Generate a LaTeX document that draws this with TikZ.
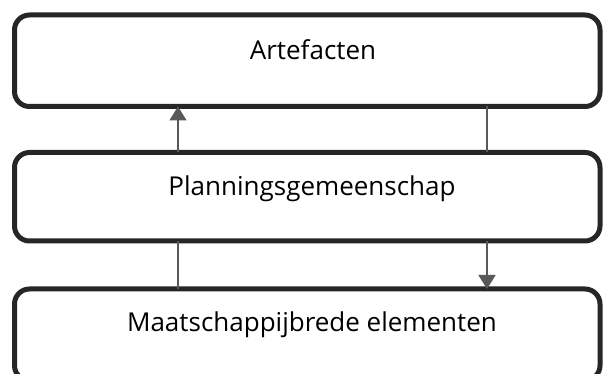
\documentclass[tikz,border=0pt]{standalone}
\usepackage{fontspec}
\setmainfont{Open Sans}
\usetikzlibrary{arrows.meta}
\begin{document}
\begin{tikzpicture}[x=1pt,y=-1pt,
  box/.style={draw=black!85, line width=5pt, rounded corners=15pt, minimum width=585.5pt, inner sep=0pt, outer sep=0pt},
  lbl/.style={font=\fontsize{26}{31}\selectfont, text=black, inner sep=0pt, anchor=base},
  conn/.style={draw=black!65, line width=1.6pt},
  tip/.style={-{Triangle[length=14pt,width=17pt]}}]
\useasboundingbox (0,0) rectangle (603,374);
\node[box, minimum height=91.5pt] (b1) at (307.25,60.75) {};
\node[box, minimum height=88.5pt] (b2) at (307.25,196.75) {};
\node[box, minimum height=91.5pt] (b3) at (307.25,334.75) {};
\node[lbl] (t1) at (313,60) {Artefacten};
\node[lbl] (t2) at (312,196) {Planningsgemeenschap};
\node[lbl] (t3) at (312,332) {Maatschappijbrede elementen};
\draw[conn,tip] ([xshift=-129.25pt]b2.north) -- ([xshift=-129.25pt]b1.south);
\draw[conn] ([xshift=179.75pt]b1.south) -- ([xshift=179.75pt]b2.north);
\draw[conn] ([xshift=-129.25pt]b2.south) -- ([xshift=-129.25pt]b3.north);
\draw[conn,tip] ([xshift=179.75pt]b2.south) -- ([xshift=179.75pt]b3.north);
\end{tikzpicture}
\end{document}
